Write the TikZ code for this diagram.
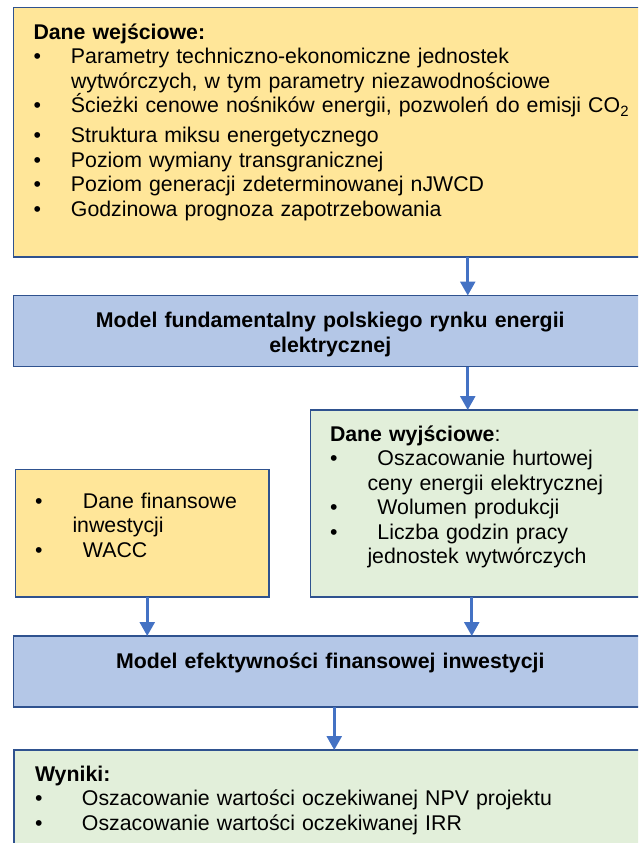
\documentclass[tikz,border=0pt]{standalone}
\usepackage{fontspec}
\setmainfont{Liberation Sans}
\usetikzlibrary{arrows.meta,positioning}
\setlength{\parindent}{0pt}
\definecolor{gelb}{RGB}{255,230,153}
\definecolor{niebieski}{RGB}{180,199,231}
\definecolor{ziel}{RGB}{226,239,218}
\definecolor{ramka}{RGB}{47,82,143}
\definecolor{strzalka}{RGB}{68,114,196}
% punkt listy: optional = wciecie pierwszej linii
\newcommand{\pkt}[2][37.5pt]{\par\noindent\hangindent=37.5pt\hangafter=1\makebox[#1][l]{\textbullet}#2}
\begin{document}
\begin{tikzpicture}[x=1pt, y=1pt,
    blok/.style={draw=ramka, line width=1.8pt, inner sep=0pt, outer sep=0pt, anchor=north west},
    txt/.style={inner sep=0pt, outer sep=0pt, text width=#1, font=\fontsize{21.3}{24.5}\selectfont},
    arr/.style={draw=strzalka, line width=2.6pt, -{Triangle[width=15pt,length=14pt]}}]
    \useasboundingbox (0,0) rectangle (638,-843);
    \clip (0,0) rectangle (638,-843);
    % bloki
    \node[blok, fill=gelb, minimum width=633.5pt, minimum height=249.5pt] (wej) at (13.5,-7.5) {};
    \node[blok, fill=niebieski, minimum width=633.5pt, minimum height=71pt] (mf) at (13.5,-295.5) {};
    \node[blok, fill=ziel, minimum width=336.5pt, minimum height=187pt] (wyj) at (310.5,-410) {};
    \node[blok, fill=gelb, minimum width=253.5pt, minimum height=127.5pt] (fin) at (15.5,-469.5) {};
    \node[blok, fill=niebieski, minimum width=633.5pt, minimum height=71pt] (mef) at (13.5,-636) {};
    \node[blok, fill=ziel, minimum width=633pt, minimum height=120pt] (wyn) at (14,-750) {};
    % teksty
    \node[txt=600pt, below right=14.65pt and 20pt of wej.north west] (wejt) {\strut\textbf{Dane wejściowe:}
        \pkt{Parametry techniczno-ekonomiczne jednostek\newline wytwórczych, w tym parametry niezawodnościowe}
        \pkt{Ścieżki cenowe nośników energii, pozwoleń do emisji CO\textsubscript{2}}
        \par\vspace{5.5pt}
        \pkt{Struktura miksu energetycznego}
        \pkt{Poziom wymiany transgranicznej}
        \pkt{Poziom generacji zdeterminowanej nJWCD}
        \pkt{Godzinowa prognoza zapotrzebowania}\par};
    \node[txt=600pt, align=center, below=15.05pt of mf.north] (mft) {\strut\textbf{Model fundamentalny polskiego rynku energii}\\\textbf{elektrycznej}};
    \node[txt=300pt, below right=13.85pt and 19.5pt of wyj.north west] (wyjt) {\strut\textbf{Dane wyjściowe}:
        \pkt[47.5pt]{Oszacowanie hurtowej\newline ceny energii elektrycznej}
        \pkt[47.5pt]{Wolumen produkcji}
        \pkt[47.5pt]{Liczba godzin pracy\newline jednostek wytwórczych}\par};
    \node[txt=220pt, below right=14.05pt and 19.5pt of fin.north west] (fint) {%
        \pkt[48pt]{\strut Dane finansowe\newline inwestycji}
        \pkt[48pt]{WACC}\par};
    \node[txt=600pt, align=center, below=14.85pt of mef.north] (meft) {\strut\textbf{Model efektywności finansowej inwestycji}};
    \node[txt=580pt, below right=13.85pt and 21pt of wyn.north west] (wynt) {\strut\textbf{Wyniki:}
        \pkt[47pt]{Oszacowanie wartości oczekiwanej NPV projektu}
        \pkt[47pt]{Oszacowanie wartości oczekiwanej IRR}\par};
    % strzalki
    \draw[arr] ([xshift=137.5pt]wej.south) -- ([xshift=137.5pt]mf.north);
    \draw[arr] ([xshift=137.5pt]mf.south) -- ([xshift=137.5pt]mf.south |- wyj.north);
    \draw[arr] ([xshift=5pt]fin.south) -- ([xshift=5pt]fin.south |- mef.north);
    \draw[arr] ([xshift=-7pt]wyj.south) -- ([xshift=-7pt]wyj.south |- mef.north);
    \draw[arr] ([xshift=4pt]mef.south) -- ([xshift=4pt]mef.south |- wyn.north);
\end{tikzpicture}
\end{document}
